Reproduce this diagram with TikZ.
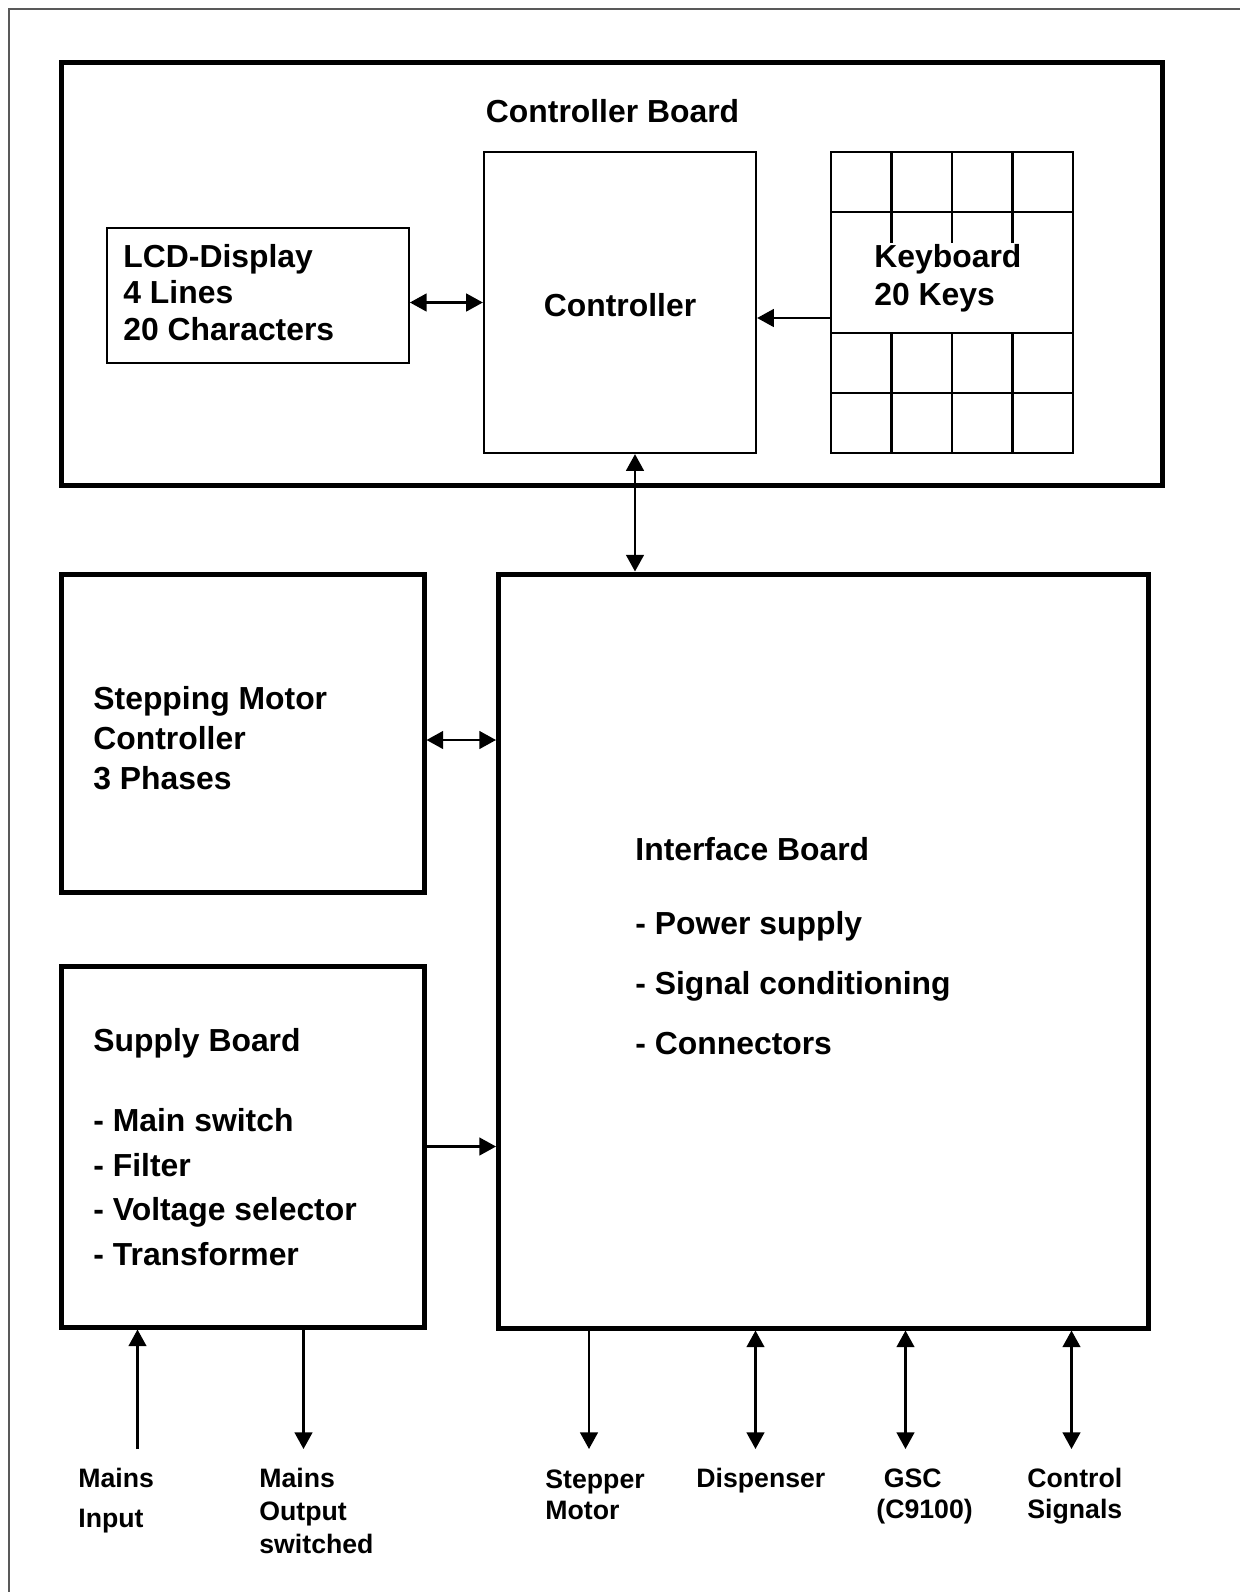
\documentclass[tikz,border=0pt]{standalone}
\usepackage{fontspec}
\setmainfont{Liberation Sans}
\usetikzlibrary{positioning}
\usetikzlibrary{arrows.meta}

\newcommand{\pxl}{0.48pt}

\tikzset{
  frame/.style={draw=black!65, line width=1pt},
  board/.style={draw, line width=2.4pt, inner sep=0pt},
  unit/.style={draw, line width=1.1pt, inner sep=0pt},
  link/.style={line width=1.1pt},
  % anchored at the baseline of the last line
  txt/.style={inner sep=0pt, anchor=base west, align=left, font=\bfseries\fontsize{15.3pt}{#1}\selectfont},
  txt/.default=18pt,
  lbl/.style={inner sep=0pt, anchor=base west, align=left, font=\bfseries\fontsize{12.8pt}{#1}\selectfont},
  lbl/.default=14.8pt
}

\begin{document}
\begin{tikzpicture}[x=\pxl, y=-\pxl, >={Triangle[length=8pt,width=8.5pt]}]
	\useasboundingbox (0,0) rectangle (1240,1592);
	\clip (0,0) rectangle (1240,1592);
	\draw[frame] (9,9) rectangle (1262,1614);
	
	% controller board
	\node[board, minimum width=1101*\pxl, minimum height=423*\pxl] (cboard) at (611.5,273.5) {};
	\node[txt] (cboardlbl) at (485.5,122) {Controller Board};
	
	\node[unit, minimum width=301.5*\pxl, minimum height=135*\pxl] (lcd) at (258,295.5) {};
	\node[txt=17.5pt] (lcdlbl) at (123,340) {LCD-Display\\4 Lines\\20 Characters};
	
	\node[unit, minimum width=272*\pxl, minimum height=301*\pxl, text height=14pt, font=\bfseries\fontsize{15.3pt}{18pt}\selectfont] (ctrl) at (620,302.5) {Controller};
	
	\node[unit, minimum width=242*\pxl, minimum height=301*\pxl] (kbd) at (952,302.5) {};
	\foreach \ky in {212,333,393}
		\draw[link] (831,\ky) -- (1073,\ky);
	\foreach \kx in {891.5,952,1012.5} {
		\draw[link] (\kx,152) -- (\kx,243);
		\draw[link] (\kx,333) -- (\kx,453);
	}
	\node[txt=17.8pt] (kbdlbl) at (874,305) {Keyboard\\20 Keys};
	
	\draw[link, <->] (ctrl.west -| lcd.east) -- (ctrl.west);
	\draw[link, ->] ([yshift=-15.5*\pxl]kbd.west) -- ([yshift=-15.5*\pxl]ctrl.east);
	
	% lower boards
	\node[board, minimum width=363*\pxl, minimum height=318*\pxl] (smc) at (242.5,733) {};
	\node[txt=19pt] (smclbl) at (93,789) {Stepping Motor\\Controller\\3 Phases};
	
	\node[board, minimum width=363*\pxl, minimum height=361*\pxl] (supply) at (242.5,1146.5) {};
	\node[txt=21.4pt] (supplylbl) at (93,1265.5) {Supply Board\\[17pt]- Main switch\\- Filter\\- Voltage selector\\- Transformer};
	
	\node[board, minimum width=649.5*\pxl, minimum height=754*\pxl] (iface) at (823.25,951) {};
	\node[txt=28.6pt] (ifacelbl) at (635,1054) {Interface Board\\[6.9pt]- Power supply\\- Signal conditioning\\- Connectors};
	
	\coordinate (cbus) at ([xshift=15*\pxl]ctrl.south);
	\draw[link, <->] (cbus) -- (cbus |- iface.north);
	\coordinate (smcport) at ([yshift=-7*\pxl]smc.east);
	\draw[link, <->] (smcport) -- (smcport -| iface.west);
	\draw[link, ->] (supply.east) -- (supply.east -| iface.west);
	
	% outside connections
	\coordinate (mainsin) at (137.5,1449);
	\draw[link, ->] (mainsin) -- (mainsin |- supply.south);
	\coordinate (mainsout) at (303.5,1449);
	\draw[link, ->] (mainsout |- supply.south) -- (mainsout);
	\coordinate (motorout) at (589,1449);
	\draw[link, ->] (motorout |- iface.south) -- (motorout);
	\foreach \px/\pn in {755.5/disp, 905.5/gsc, 1071.5/sig} {
		\coordinate (\pn-end) at (\px,1449);
		\draw[link, <->] (\pn-end |- iface.south) -- (\pn-end);
	}
	
	\node[lbl=19.2pt] (mainsinlbl) at (78,1527) {Mains\\Input};
	\node[lbl=15.8pt] (mainsoutlbl) at (259,1553) {Mains\\Output\\switched};
	\node[lbl] (motorlbl) at (545,1519) {Stepper\\Motor};
	\node[lbl] (displbl) at (696,1487) {Dispenser};
	\node[lbl] (gsclbl) at (876,1518) {\hspace*{.278em}GSC\\(C9100)};
	\node[lbl] (siglbl) at (1027,1518) {Control\\Signals};
\end{tikzpicture}
\end{document}
